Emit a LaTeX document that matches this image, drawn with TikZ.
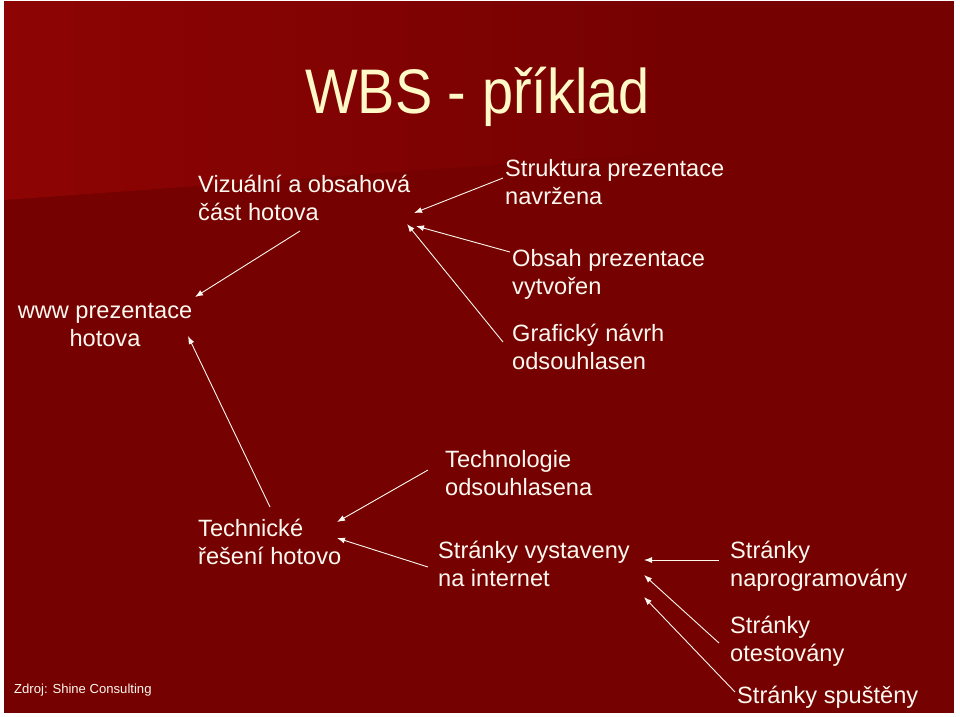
\documentclass[tikz,border=0pt]{standalone}
\usepackage{fontspec}
\setmainfont{Liberation Sans}
\usetikzlibrary{arrows.meta}
\definecolor{bgred}{RGB}{117,1,1}
\definecolor{bglight}{RGB}{142,4,4}
\definecolor{txt}{RGB}{252,248,240}
\definecolor{titlec}{RGB}{255,249,200}
\begin{document}
\begin{tikzpicture}[x=1pt,y=-1pt,
  lbl/.style={anchor=north west, inner sep=0pt, align=left, text=txt,
    font=\fontsize{23.6}{28.7}\selectfont},
  lblc/.style={lbl, anchor=north, align=center},
  arr/.style={draw=txt, line width=0.9pt, -{Latex[length=8pt,width=6pt]}}]
\useasboundingbox (0,0) rectangle (960,716);
\fill[white] (0,0) rectangle (960,716);
\fill[bgred] (4,1) rectangle (954,713);
\shade[left color=bglight, right color=bgred] (4,1) -- (700,1) -- (700,150) -- (4,200) -- cycle;
% title
\node[anchor=base west, inner sep=0pt, text=titlec, font=\fontsize{63}{63}\selectfont] (title) at (305,113) {\scalebox{0.887}[1]{WBS - příklad}};
% labels
\node[lbl] (viz) at (198,171.9) {\strut Vizuální a obsahová\\\strut část hotova};
\node[lbl] (struk) at (505,155.9) {\strut Struktura prezentace\\\strut navržena};
\node[lbl] (obsah) at (512,245.9) {\strut Obsah prezentace\\\strut vytvořen};
\node[lbl] (graf) at (512,320.9) {\strut Grafický návrh\\\strut odsouhlasen};
\node[lblc] (www) at (105,297.9) {\strut www prezentace\\\strut hotova};
\node[lbl] (techno) at (445,446.9) {\strut Technologie\\\strut odsouhlasena};
\node[lbl] (tech) at (198,515.9) {\strut Technické\\\strut řešení hotovo};
\node[lbl] (vyst) at (438,537.9) {\strut Stránky vystaveny\\\strut na internet};
\node[lbl] (naprog) at (730,537.9) {\strut Stránky\\\strut naprogramovány};
\node[lbl] (otest) at (730,612.9) {\strut Stránky\\\strut otestovány};
\node[lbl] (spust) at (737,682.9) {\strut Stránky spuštěny};
\node[anchor=base west, inner sep=0pt, text=txt, font=\fontsize{13.1}{15}\selectfont] (zdroj) at (14,693) {Zdroj: Shine Consulting};
% connector ends
\coordinate (s1) at (503,178);  \coordinate (e1) at (414,213);
\coordinate (s2) at (510,252);  \coordinate (e2) at (416,226);
\coordinate (s3) at (503,342);  \coordinate (e3) at (407,224);
\coordinate (s4) at (300,231);  \coordinate (e4) at (195,297);
\coordinate (s5) at (270,507);  \coordinate (e5) at (188,336);
\coordinate (s6) at (428,470);  \coordinate (e6) at (337,522);
\coordinate (s7) at (428,567);  \coordinate (e7) at (337,538);
\coordinate (s8) at (719,560);  \coordinate (e8) at (644,560);
\coordinate (s9) at (719,643);  \coordinate (e9) at (644,575);
\coordinate (s10) at (735,692); \coordinate (e10) at (644,597);
\foreach \i in {1,...,10} {\draw[arr] (s\i) -- (e\i);}
\end{tikzpicture}
\end{document}
